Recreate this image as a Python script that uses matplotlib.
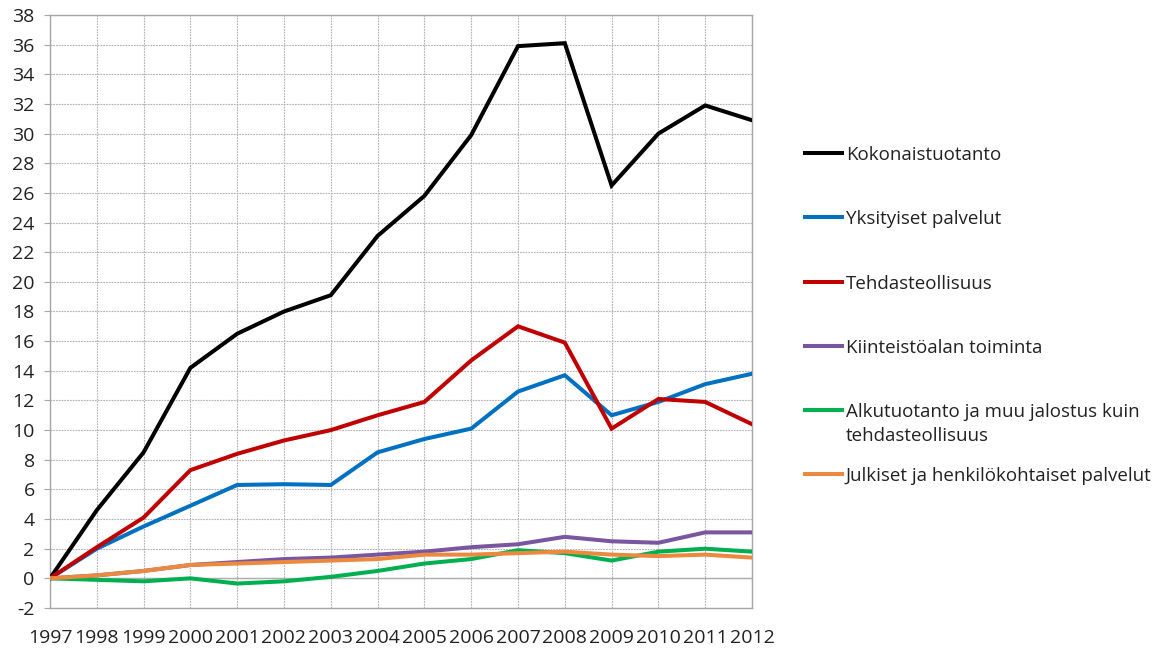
import matplotlib
matplotlib.use("Agg")
import matplotlib.pyplot as plt
from matplotlib.lines import Line2D

plt.rcParams["font.family"] = ["Open Sans", "DejaVu Sans"]
plt.rcParams["axes.unicode_minus"] = False

years = list(range(1997, 2013))

kokonaistuotanto = [0.0, 4.6, 8.5, 14.2, 16.5, 18.0, 19.1, 23.1, 25.8, 29.9,
                    35.9, 36.1, 26.5, 30.0, 31.9, 30.9]
yksityiset_palvelut = [0.0, 2.0, 3.5, 4.9, 6.3, 6.35, 6.3, 8.5, 9.4, 10.1,
                       12.6, 13.7, 11.0, 11.9, 13.1, 13.8]
tehdasteollisuus = [0.0, 2.1, 4.1, 7.3, 8.4, 9.3, 10.0, 11.0, 11.9, 14.7,
                    17.0, 15.9, 10.1, 12.1, 11.9, 10.4]
kiinteistoala = [0.0, 0.2, 0.5, 0.9, 1.1, 1.3, 1.4, 1.6, 1.8, 2.1,
                 2.3, 2.8, 2.5, 2.4, 3.1, 3.1]
alkutuotanto = [0.0, -0.1, -0.2, 0.0, -0.35, -0.2, 0.1, 0.5, 1.0, 1.3,
                1.9, 1.7, 1.2, 1.8, 2.0, 1.8]
julkiset_palvelut = [0.0, 0.2, 0.5, 0.9, 1.0, 1.1, 1.2, 1.3, 1.6, 1.6,
                     1.7, 1.8, 1.6, 1.5, 1.6, 1.4]

series = [
    ("Kokonaistuotanto", kokonaistuotanto, "#000000"),
    ("Yksityiset palvelut", yksityiset_palvelut, "#0070C0"),
    ("Tehdasteollisuus", tehdasteollisuus, "#C00000"),
    ("Kiinteistöalan toiminta", kiinteistoala, "#7A55A0"),
    ("Alkutuotanto ja muu jalostus kuin\ntehdasteollisuus", alkutuotanto, "#00B050"),
    ("Julkiset ja henkilökohtaiset palvelut", julkiset_palvelut, "#EB8A3E"),
]

W, H = 1164, 648
fig = plt.figure(figsize=(W / 100, H / 100), dpi=100)
ax = fig.add_axes([50 / W, 1 - 608 / H, (752 - 50) / W, (608 - 15) / H])

grid_color = "#A6A6A6"
for name, values, color in series:
    ax.plot(years, values, color=color, lw=2.9, solid_joinstyle="miter",
            zorder=3)

ax.set_xlim(years[0], years[-1])
ax.set_ylim(-2, 38)
ax.set_yticks(range(-2, 39, 2))
ax.set_xticks(years)
ax.grid(True, color="#B4B4B4", linestyle=(0, (1.6, 0.9)), lw=0.8, zorder=0)
ax.axhline(0, color=grid_color, lw=1.0, zorder=1)
for spine in ax.spines.values():
    spine.set_color(grid_color)
    spine.set_linewidth(1.0)
ax.tick_params(axis="y", length=4, width=0.8, color=grid_color, pad=7,
               labelsize=14, labelcolor="#222222")
ax.tick_params(axis="x", length=0, pad=15, labelsize=14, labelcolor="#222222")

# legend drawn at the right side, handle aligned with first text line
legend_rows = [153, 217, 282, 346, 410, 474]
for (name, values, color), row in zip(series, legend_rows):
    yf = 1 - row / H
    fig.add_artist(Line2D([805 / W, 842 / W], [yf, yf], color=color, lw=2.9,
                          transform=fig.transFigure))
    fig.text(846 / W, 1 - (row - 7) / H, name, fontsize=13.5, va="top",
             ha="left", color="#222222", linespacing=1.4)

fig.savefig("out.png", dpi=100)
